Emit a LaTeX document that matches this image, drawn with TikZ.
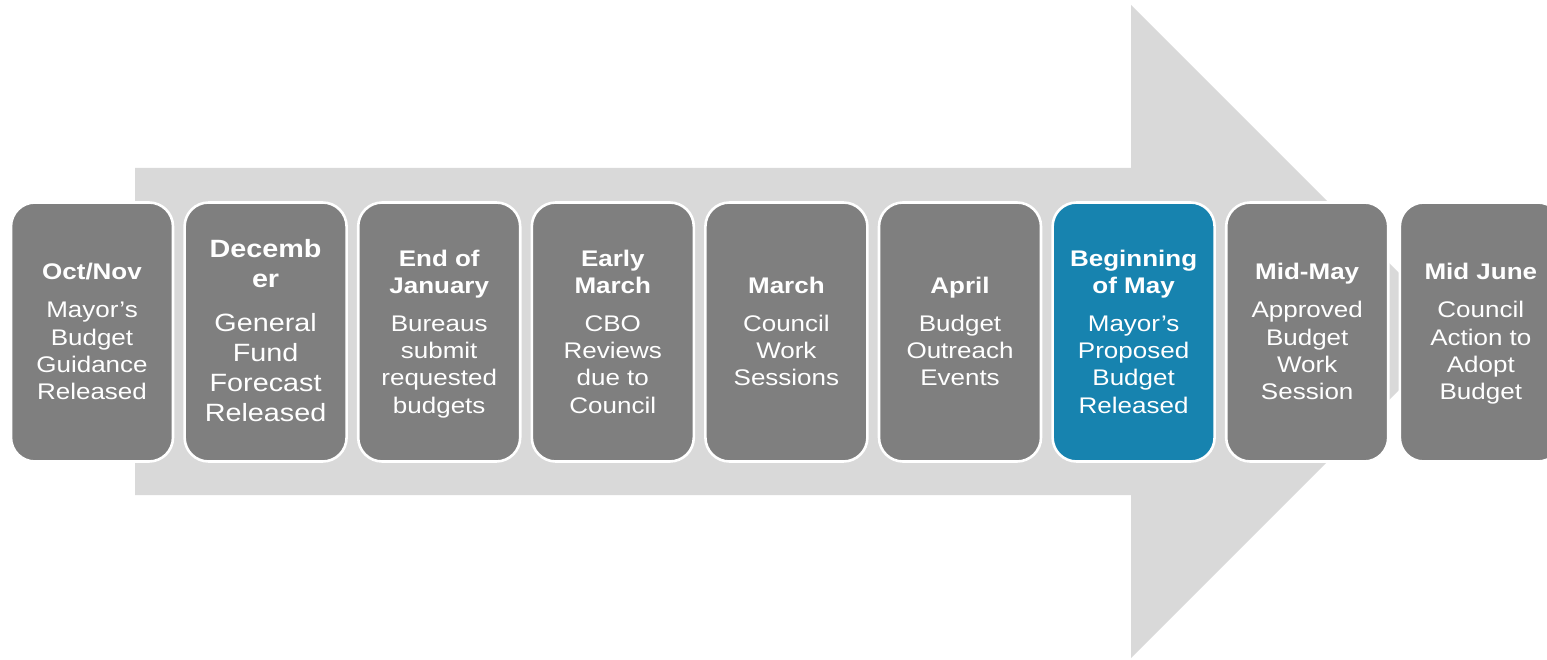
\documentclass[tikz,border=0pt]{standalone}
\usepackage{fontspec}
\setmainfont{Liberation Sans}[FakeStretch=1.15]
\definecolor{arrowgray}{HTML}{D9D9D9}
\definecolor{boxgray}{HTML}{7F7F7F}
\definecolor{boxblue}{HTML}{1783AF}
\newcommand{\myTop}{\rule{0pt}{20pt}}
\newcommand{\myBot}{\rule[-20pt]{0pt}{20pt}}
\begin{document}
\begin{tikzpicture}[x=1pt,y=-1pt,
  box/.style={rounded corners=24pt, minimum width=162pt, minimum height=259pt,
              inner sep=0pt, draw=white, line width=2.6pt, fill=boxgray},
  lbl/.style={text=white, align=center, inner sep=0pt,
              font=\fontsize{22.6}{27.2}\selectfont},
  lblbig/.style={lbl, font=\fontsize{25}{30}\selectfont}]
\useasboundingbox (0,0) rectangle (1547,660);
\clip (0,0) rectangle (1547,660);
% big arrow
\fill[arrowgray] (135,168) -- (1131,168) -- (1131,5) -- (1457.5,331.5)
  -- (1131,658) -- (1131,495) -- (135,495) -- cycle;
% boxes
\node[box] (b1) at (92,332) {};
\node[box] (b2) at (265.6,332) {};
\node[box] (b3) at (439.2,332) {};
\node[box] (b4) at (612.8,332) {};
\node[box] (b5) at (786.4,332) {};
\node[box] (b6) at (960,332) {};
\node[box, fill=boxblue] (b7) at (1133.6,332) {};
\node[box] (b8) at (1307.2,332) {};
\node[box] (b9) at (1480.8,332) {};
% texts
\node[lbl] (t1) at ([yshift=-7.5pt]b1.center)
  {{\bfseries\myTop Oct/Nov}\\[11pt]Mayor’s\\Budget\\Guidance\\Released\myBot};
\node[lblbig] (t2) at ([yshift=-7.5pt]b2.center)
  {{\bfseries\myTop Decemb}\\{\bfseries er}\\[14pt]General\\Fund\\Forecast\\Released\myBot};
\node[lbl] (t3) at ([yshift=-7.5pt]b3.center)
  {{\bfseries\myTop End of}\\{\bfseries January}\\[11pt]Bureaus\\submit\\requested\\budgets\myBot};
\node[lbl] (t4) at ([yshift=-7.5pt]b4.center)
  {{\bfseries\myTop Early}\\{\bfseries March}\\[11pt]CBO\\Reviews\\due to\\Council\myBot};
\node[lbl] (t5) at ([yshift=-7.5pt]b5.center)
  {{\bfseries\myTop March}\\[11pt]Council\\Work\\Sessions\myBot};
\node[lbl] (t6) at ([yshift=-7.5pt]b6.center)
  {{\bfseries\myTop April}\\[11pt]Budget\\Outreach\\Events\myBot};
\node[lbl] (t7) at ([yshift=-7.5pt]b7.center)
  {{\bfseries\myTop Beginning}\\{\bfseries of May}\\[11pt]Mayor’s\\Proposed\\Budget\\Released\myBot};
\node[lbl] (t8) at ([yshift=-7.5pt]b8.center)
  {{\bfseries\myTop Mid-May}\\[11pt]Approved\\Budget\\Work\\Session\myBot};
\node[lbl] (t9) at ([yshift=-7.5pt]b9.center)
  {{\bfseries\myTop Mid June}\\[11pt]Council\\Action to\\Adopt\\Budget\myBot};
\end{tikzpicture}
\end{document}
